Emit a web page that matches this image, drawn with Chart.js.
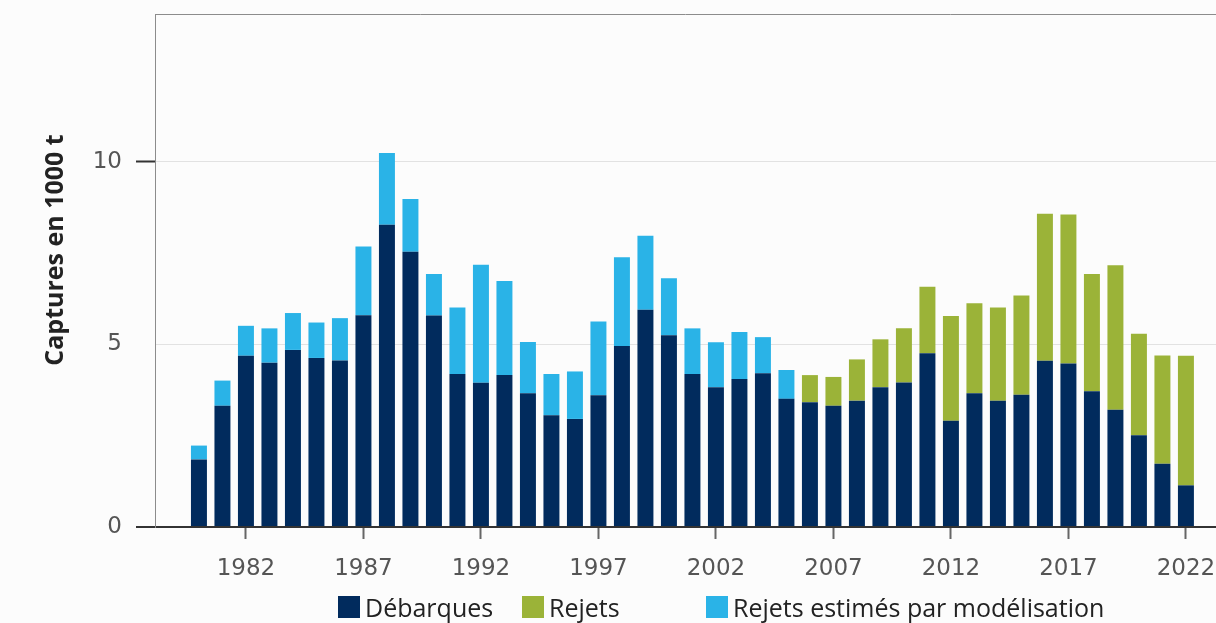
<!DOCTYPE html>
<html>
<head>
<meta charset="utf-8">
<script src="https://cdn.jsdelivr.net/npm/chart.js@4/dist/chart.umd.min.js"></script>
<style>
  html, body { margin: 0; padding: 0; background: #fcfcfc; }
  #wrap { position: relative; width: 1216px; height: 623px; }
  #legend { position: absolute; left: 0; top: 590px; width: 1216px; height: 30px;
            font-family: "Open Sans", sans-serif; font-size: 25px; color: #222; }
  .item { position: absolute; top: 0; display: flex; align-items: center; white-space: nowrap; }
  .box { width: 22px; height: 22px; margin-right: 5px; }
</style>
</head>
<body>
<div id="wrap">
  <canvas id="chart" width="1216" height="623"></canvas>
  <div id="legend"></div>
</div>
<script>
// Years on the x axis
const years = [1980, 1981, 1982, 1983, 1984, 1985, 1986, 1987, 1988, 1989,
  1990, 1991, 1992, 1993, 1994, 1995, 1996, 1997, 1998, 1999,
  2000, 2001, 2002, 2003, 2004, 2005, 2006, 2007, 2008, 2009,
  2010, 2011, 2012, 2013, 2014, 2015, 2016, 2017, 2018, 2019,
  2020, 2021, 2022];

// Landings (1000 t)
const debarques = [1.85, 3.32, 4.69, 4.50, 4.85, 4.63, 4.56, 5.80, 8.28, 7.54,
  5.79, 4.19, 3.95, 4.16, 3.66, 3.06, 2.96, 3.61, 4.96, 5.95,
  5.25, 4.19, 3.83, 4.05, 4.21, 3.51, 3.42, 3.32, 3.46, 3.83,
  3.96, 4.76, 2.91, 3.66, 3.46, 3.62, 4.55, 4.48, 3.72, 3.21,
  2.51, 1.73, 1.14];

// Observed discards (from 2006)
const rejets = [null, null, null, null, null, null, null, null, null, null,
  null, null, null, null, null, null, null, null, null, null,
  null, null, null, null, null, null, 0.74, 0.79, 1.13, 1.31,
  1.48, 1.82, 2.87, 2.47, 2.55, 2.72, 4.03, 4.08, 3.21, 3.96,
  2.78, 2.97, 3.55];

// Discards estimated by modelling (up to 2005)
const rejetsModel = [0.38, 0.69, 0.82, 0.94, 1.01, 0.97, 1.16, 1.88, 1.96, 1.44,
  1.14, 1.82, 3.23, 2.58, 1.41, 1.13, 1.30, 2.02, 2.43, 2.03,
  1.56, 1.25, 1.23, 1.29, 0.99, 0.79, null, null, null, null,
  null, null, null, null, null, null, null, null, null, null,
  null, null, null];

const xTicks = [1982, 1987, 1992, 1997, 2002, 2007, 2012, 2017, 2022];
const yTicks = [0, 5, 10];
const yTitle = "Captures en 1000 t";

const toPoints = (arr) => years.map((y, i) => ({ x: y, y: arr[i] }));

// Top frame line + y axis title (placed a bit above the plot centre like the original)
const extras = {
  id: "extras",
  afterDraw(chart) {
    const { ctx, chartArea } = chart;
    ctx.save();
    ctx.strokeStyle = "#8c8c8c";
    ctx.lineWidth = 1;
    ctx.beginPath();
    ctx.moveTo(chartArea.left, chartArea.top + 0.5);
    ctx.lineTo(chartArea.right, chartArea.top + 0.5);
    ctx.stroke();

    ctx.translate(56, 250);
    ctx.rotate(-Math.PI / 2);
    ctx.fillStyle = "#222";
    ctx.font = "bold 25px 'Open Sans'";
    ctx.textAlign = "center";
    ctx.textBaseline = "middle";
    ctx.fillText(yTitle, 0, 0);
    ctx.restore();
  },
};

const ctx = document.getElementById("chart").getContext("2d");
const chart = new Chart(ctx, {
  type: "bar",
  data: {
    datasets: [
      { label: "Débarques", data: toPoints(debarques), backgroundColor: "#012b5d" },
      { label: "Rejets", data: toPoints(rejets), backgroundColor: "#9bb338" },
      { label: "Rejets estimés par modélisation", data: toPoints(rejetsModel), backgroundColor: "#2ab3e7" },
    ],
  },
  options: {
    responsive: false,
    animation: false,
    layout: { padding: { top: 14, left: 0, right: 0, bottom: 0 } },
    datasets: { bar: { categoryPercentage: 1, barPercentage: 0.68 } },
    plugins: {
      legend: { display: false },
      tooltip: { enabled: false },
    },
    scales: {
      x: {
        type: "linear",
        stacked: true,
        offset: false,
        min: 1978.13,
        max: 2023.28,
        afterBuildTicks: (scale) => {
          scale.ticks = xTicks.map((v) => ({ value: v }));
        },
        afterFit: (scale) => {
          scale.height = 96;
          scale.paddingLeft = 0;
          scale.paddingRight = 0;
        },
        grid: { offset: false, drawOnChartArea: false, drawTicks: true, tickLength: 12, tickColor: "#666", tickWidth: 2 },
        border: { display: true, color: "#333", width: 2 },
        ticks: {
          padding: 16,
          color: "#555",
          font: { family: "DejaVu Sans", size: 23 },
          maxRotation: 0,
          autoSkip: false,
          callback: (v) => String(v),
        },
      },
      y: {
        stacked: true,
        min: 0,
        max: 14.05,
        afterBuildTicks: (scale) => {
          scale.ticks = yTicks.map((v) => ({ value: v }));
        },
        afterFit: (scale) => {
          scale.width = 155;
          scale.paddingTop = 0;
          scale.paddingBottom = 0;
        },
        grid: {
          color: (c) => (c.tick && c.tick.value === 0 ? "#333" : "#e2e2e2"),
          lineWidth: (c) => (c.tick && c.tick.value === 0 ? 2 : 1),
          tickLength: 19,
          tickColor: (c) => (c.tick && c.tick.value === 5 ? "rgba(0,0,0,0)" : "#333"),
          tickWidth: 2,
        },
        border: { display: true, color: "#8c8c8c", width: 1 },
        ticks: {
          padding: 14,
          color: "#555",
          font: { family: "DejaVu Sans", size: 23 },
        },
      },
    },
  },
  plugins: [extras],
});

// Legend built from the chart datasets
const legendLeft = [338, 522, 706];
const legend = document.getElementById("legend");
chart.data.datasets.forEach((ds, i) => {
  const item = document.createElement("div");
  item.className = "item";
  item.style.left = legendLeft[i] + "px";
  const box = document.createElement("span");
  box.className = "box";
  box.style.background = ds.backgroundColor;
  const txt = document.createElement("span");
  txt.textContent = ds.label;
  item.appendChild(box);
  item.appendChild(txt);
  legend.appendChild(item);
});
</script>
</body>
</html>
